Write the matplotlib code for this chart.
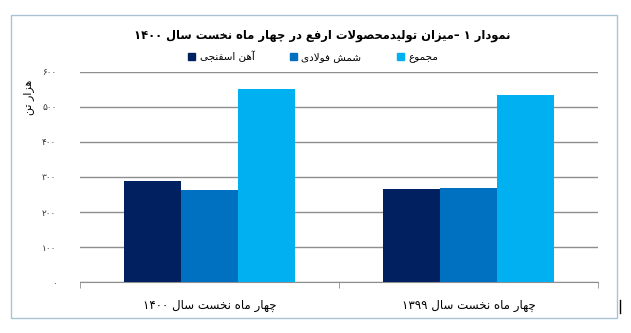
import matplotlib.pyplot as plt
from matplotlib.patches import Rectangle, Patch
from matplotlib.lines import Line2D

# production of Arfa products, first four months (thousand tonnes)
periods = ["چهار ماه نخست سال ۱۴۰۰", "چهار ماه نخست سال ۱۳۹۹"]
series_names = ["آهن اسفنجی", "شمش فولادی", "مجموع"]
sponge_iron = [289, 265]
steel_billet = [262, 268]
total = [551, 533]
yticks = [0, 100, 200, 300, 400, 500, 600]
title = "نمودار ۱ –میزان تولیدمحصولات ارفع در چهار ماه نخست سال ۱۴۰۰"
ylabel = "هزار تن"

colors = ["#002060", "#0070C0", "#00B0F0"]

# matplotlib has no arabic shaping, so pick presentation forms by hand
DUAL = {'ت': 0xFE95, 'ج': 0xFE9D, 'ح': 0xFEA1, 'خ': 0xFEA5, 'س': 0xFEB1,
        'ش': 0xFEB5, 'ص': 0xFEB9, 'ع': 0xFEC9, 'ف': 0xFED1, 'ق': 0xFED5,
        'ل': 0xFEDD, 'م': 0xFEE1, 'ن': 0xFEE5, 'ه': 0xFEE9, 'ی': 0xFBFC,
        'چ': 0xFB7A}
RIGHT = {'ا': 0xFE8D, 'آ': 0xFE81, 'د': 0xFEA9, 'ر': 0xFEAD, 'ز': 0xFEAF,
         'و': 0xFEED}


def shape(s):
    out = []
    i = 0
    while i < len(s):
        ch = s[i]
        prev_joins = i > 0 and s[i - 1] in DUAL
        if ch == 'ل' and i + 1 < len(s) and s[i + 1] == 'ا':
            out.append(chr(0xFEFC if prev_joins else 0xFEFB))
            i += 2
            continue
        if ch in DUAL:
            nxt = s[i + 1] if i + 1 < len(s) else ''
            next_joins = nxt in DUAL or nxt in RIGHT
            off = {(False, False): 0, (True, False): 1,
                   (False, True): 2, (True, True): 3}[(prev_joins, next_joins)]
            out.append(chr(DUAL[ch] + off))
        elif ch in RIGHT:
            out.append(chr(RIGHT[ch] + (1 if prev_joins else 0)))
        else:
            out.append(ch)
        i += 1
    return out


def fa(s):
    # visual order: reverse everything but keep digit runs left-to-right
    chars = shape(s)
    runs, cur, cur_digit = [], [], None
    for c in chars:
        d = '\u06F0' <= c <= '\u06F9'
        if cur and d != cur_digit:
            runs.append((cur_digit, cur))
            cur = []
        cur.append(c)
        cur_digit = d
    if cur:
        runs.append((cur_digit, cur))
    res = []
    for d, r in reversed(runs):
        res.append(''.join(r) if d else ''.join(reversed(r)))
    return ''.join(res)


def fa_num(n):
    return ''.join(chr(0x06F0 + int(c)) for c in str(n))


fig = plt.figure(figsize=(6.31, 3.33), dpi=100)
fig.patches.append(Rectangle((11 / 631, 15 / 333), 606 / 631, 303 / 333,
                             transform=fig.transFigure, fill=False,
                             edgecolor="#A8C4D2", lw=1))
fig.lines.append(Line2D([620 / 631, 620 / 631], [20 / 333, 33 / 333],
                        transform=fig.transFigure, color="black", lw=1))

ax = fig.add_axes([80 / 631, 1 - 282.3 / 333, 518 / 631, 210.6 / 333])

w = 0.221
x = range(len(periods))
for k, vals in enumerate([sponge_iron, steel_billet, total]):
    ax.bar([i + (k - 1) * w for i in x], vals, width=w, color=colors[k],
           zorder=3)

ax.set_ylim(0, 600)
ax.set_xlim(-0.5, 1.5)
ax.set_yticks(yticks)
ax.set_yticklabels([fa_num(v) for v in yticks], fontsize=6.5, color="#333333")
ax.yaxis.grid(True, color="#8E8E8E", lw=1)
ax.tick_params(axis="y", length=0, pad=17)

ax.set_xticks(list(x))
ax.set_xticklabels([fa(p) for p in periods], fontsize=8.5)
ax.set_xticks([-0.5, 0.5, 1.5], minor=True)
ax.tick_params(axis="x", which="major", length=0, pad=12)
ax.tick_params(axis="x", which="minor", length=4, color="#8E8E8E")

for side in ["top", "right", "left"]:
    ax.spines[side].set_visible(False)
ax.spines["bottom"].set_color("#8E8E8E")

fig.text(29 / 631, 1 - 97 / 333, fa(ylabel), rotation=90, fontsize=8,
         ha="center", va="center")
fig.text(322 / 631, 1 - 35 / 333, fa(title), fontsize=8.3, fontweight="bold",
         ha="center", va="center")

handles = [Patch(color=c) for c in colors]
fig.legend(handles, [fa(n) for n in series_names], ncol=3, loc="center",
           bbox_to_anchor=(313 / 631, 1 - 57 / 333), frameon=False,
           fontsize=7.5, handlelength=0.7, handleheight=0.7,
           handletextpad=0.4, columnspacing=3.4)

fig.savefig("out.png", dpi=100)
